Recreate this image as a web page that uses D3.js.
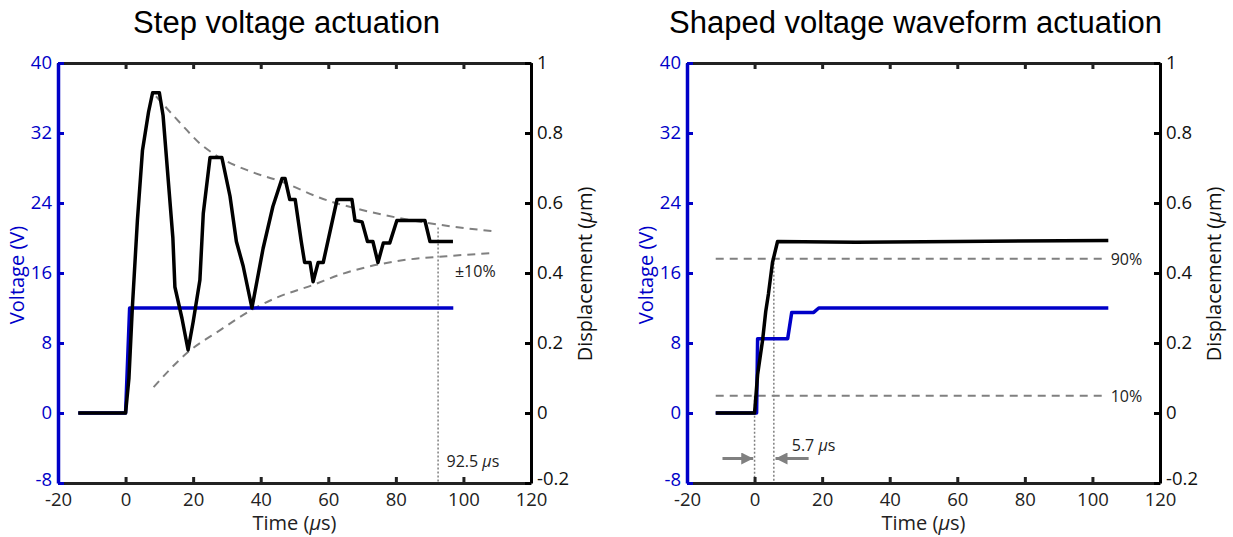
<!DOCTYPE html>
<html>
<head>
<meta charset="utf-8">
<script src="https://cdn.jsdelivr.net/npm/d3@7"></script>
<style>
  body { margin: 0; background: #fff; }
  svg text { font-family: "Open Sans", sans-serif; }
</style>
</head>
<body>
<svg id="chart" width="1233" height="537"></svg>
<script>
// tick values
const timeTicks = [-20, 0, 20, 40, 60, 80, 100, 120];
const voltTicks = [-8, 0, 8, 16, 24, 32, 40];
const dispTicks = [-0.2, 0, 0.2, 0.4, 0.6, 0.8, 1];

// step actuation: voltage (V) and displacement (um)
const stepVoltT = [-14, 0, 1.2, 97];
const stepVolt  = [0, 0, 12, 12];
const stepDispT = [-14, 0, 1, 2, 3.5, 5, 6.8, 8, 10, 11.1, 14, 14.6, 16.7, 18.5, 20, 22, 23, 25, 28.5,
  30.9, 32.8, 34.8, 37.4, 40.7, 43.6, 46.3, 47.2, 48.6, 50.2, 52, 53, 54.6, 55.5, 57, 58.5,
  62.6, 67, 67.9, 70, 71.6, 73.2, 74.7, 76.3, 78.2, 80.3, 88.6, 90.1, 96.9];
const stepDisp  = [0, 0, 0.1, 0.3, 0.55, 0.75, 0.86, 0.915, 0.915, 0.85, 0.5, 0.36, 0.27, 0.18, 0.26, 0.38, 0.57, 0.73, 0.73,
  0.62, 0.49, 0.42, 0.3, 0.47, 0.59, 0.67, 0.67, 0.61, 0.61, 0.49, 0.43, 0.43, 0.375, 0.43, 0.43,
  0.61, 0.61, 0.55, 0.546, 0.49, 0.49, 0.43, 0.486, 0.486, 0.55, 0.55, 0.49, 0.49];
// +-10% envelopes
const upperEnvT = [9, 17, 22, 27, 37, 46.5, 57.5, 70, 81, 95, 110];
const upperEnv  = [0.905, 0.82, 0.77, 0.735, 0.69, 0.66, 0.615, 0.58, 0.557, 0.535, 0.518];
const lowerEnvT = [8.3, 18.5, 28, 38.3, 44.8, 55.5, 63.4, 81, 95, 109];
const lowerEnv  = [0.074, 0.174, 0.237, 0.3, 0.33, 0.366, 0.395, 0.435, 0.448, 0.457];
const settleTime = 92.5;

// shaped actuation
const shapedVoltT = [-11.5, 0.6, 0.9, 9.8, 11, 17.5, 19, 104.7];
const shapedVolt  = [0, 0, 8.5, 8.5, 11.5, 11.5, 12, 12];
const shapedDispT = [-11.5, 0, 0.9, 2.4, 3.3, 4.1, 5.3, 6.8, 30, 60, 104.7];
const shapedDisp  = [0, 0, 0.11, 0.21, 0.29, 0.34, 0.43, 0.49, 0.488, 0.49, 0.493];
const levelLabels = ["90%", "10%"];
const levelValues = [0.441, 0.049];
const levelRange  = [-11.5, 104.5];
const riseTime = 5.7;

const blue = "#0000c8";
const gray = "#808080";
const plotTop = 63, plotBottom = 483;

const svg = d3.select("#chart");

svg.append("defs").append("marker")
  .attr("id", "arrow")
  .attr("viewBox", "0 0 10 10")
  .attr("refX", 10).attr("refY", 5)
  .attr("markerWidth", 4.5).attr("markerHeight", 4)
  .attr("orient", "auto")
  .append("path")
  .attr("d", "M0,0L10,5L0,10Z")
  .attr("fill", gray);

function drawPanel(x0, x1, title) {
  const x = d3.scaleLinear().domain([-20, 120]).range([x0, x1]);
  const yV = d3.scaleLinear().domain([-8, 40]).range([plotBottom, plotTop]);
  const yD = d3.scaleLinear().domain([-0.2, 1]).range([plotBottom, plotTop]);
  const g = svg.append("g");

  // title
  svg.append("text")
    .attr("x", (x0 + x1) / 2 - 8).attr("y", 33)
    .attr("text-anchor", "middle")
    .style("font-family", "'Liberation Sans', Arial, sans-serif")
    .style("font-size", "31px")
    .text(title);

  // axes
  const axes = svg.append("g").attr("class", "axes");
  axes.append("g")
    .attr("transform", `translate(0,${plotBottom})`)
    .call(d3.axisBottom(x).tickValues(timeTicks).tickSizeInner(-6).tickSizeOuter(0).tickPadding(10).tickFormat(d => String(d)))
    .call(a => a.select(".domain").attr("stroke", "#222").attr("stroke-width", 3))
    .call(a => a.selectAll(".tick line").attr("stroke", "#222").attr("stroke-width", 3))
    .call(a => a.selectAll("text").style("font-size", "18.5px").attr("fill", "#222"));
  axes.append("g")
    .attr("transform", `translate(0,${plotTop})`)
    .call(d3.axisTop(x).tickValues(timeTicks).tickSizeInner(-6).tickSizeOuter(0).tickFormat(""))
    .call(a => a.select(".domain").attr("stroke", "#222").attr("stroke-width", 3))
    .call(a => a.selectAll(".tick line").attr("stroke", "#222").attr("stroke-width", 3));
  axes.append("g")
    .attr("transform", `translate(${x1},0)`)
    .call(d3.axisRight(yD).tickValues(dispTicks).tickSizeInner(-6).tickSizeOuter(0).tickPadding(6)
      .tickFormat(d => String(Math.round(d * 10) / 10)))
    .call(a => a.select(".domain").attr("stroke", "#000").attr("stroke-width", 3))
    .call(a => a.selectAll(".tick line").attr("stroke", "#000").attr("stroke-width", 3))
    .call(a => a.selectAll("text").style("font-size", "18.5px").attr("fill", "#111")
      .attr("dy", d => d < 0 ? "0.1em" : "0.32em"));
  axes.append("g")
    .attr("transform", `translate(${x0},0)`)
    .call(d3.axisLeft(yV).tickValues(voltTicks).tickSizeInner(-6).tickSizeOuter(0).tickPadding(6).tickFormat(d => String(d)))
    .call(a => a.select(".domain").attr("stroke", blue).attr("stroke-width", 3.5))
    .call(a => a.selectAll(".tick line").attr("stroke", blue).attr("stroke-width", 3))
    .call(a => a.selectAll("text").style("font-size", "18.5px").attr("fill", blue)
      .attr("dy", d => d < 0 ? "0.15em" : "0.32em"));

  // axis titles
  svg.append("text")
    .attr("x", (x0 + x1) / 2).attr("y", 530)
    .attr("text-anchor", "middle")
    .style("font-size", "20px").attr("fill", "#222")
    .html('Time (<tspan font-style="italic">μ</tspan>s)');
  svg.append("text")
    .attr("transform", `translate(${x0 - 34},${(plotTop + plotBottom) / 2 + 2}) rotate(-90)`)
    .attr("text-anchor", "middle")
    .style("font-size", "20px").attr("fill", blue)
    .text("Voltage (V)");
  svg.append("text")
    .attr("transform", `translate(${x1 + 61},${(plotTop + plotBottom) / 2 + 1}) rotate(-90)`)
    .attr("text-anchor", "middle")
    .style("font-size", "20px").attr("fill", "#111")
    .html('Displacement (<tspan font-style="italic">μ</tspan>m)');

  return { x, yV, yD, g };
}

function zip(ts, vs) { return ts.map((t, i) => [t, vs[i]]); }

function addLine(p, data, y, color, width, curve) {
  return p.g.append("path")
    .datum(data)
    .attr("fill", "none")
    .attr("stroke", color)
    .attr("stroke-width", width)
    .attr("stroke-linejoin", "round")
    .attr("d", d3.line().x(d => p.x(d[0])).y(d => y(d[1])).curve(curve || d3.curveLinear));
}

// ---- left panel
const L = drawPanel(58, 531, "Step voltage actuation");
addLine(L, zip(upperEnvT, upperEnv), L.yD, gray, 2, d3.curveMonotoneX).attr("stroke-dasharray", "8,6");
addLine(L, zip(lowerEnvT, lowerEnv), L.yD, gray, 2, d3.curveMonotoneX).attr("stroke-dasharray", "8,6");
L.g.append("line")
  .attr("x1", L.x(settleTime)).attr("x2", L.x(settleTime))
  .attr("y1", L.yD(0.53)).attr("y2", plotBottom)
  .attr("stroke", gray).attr("stroke-width", 1.5).attr("stroke-dasharray", "2,2");
addLine(L, zip(stepVoltT, stepVolt), L.yV, blue, 3.5);
addLine(L, zip(stepDispT, stepDisp), L.yD, "#000", 3.5);
L.g.append("text")
  .attr("x", L.x(97.5)).attr("y", L.yD(0.39))
  .style("font-size", "16px").attr("fill", "#222")
  .text("±10%");
L.g.append("text")
  .attr("x", L.x(95)).attr("y", L.yD(-0.155))
  .style("font-size", "16px").attr("fill", "#222")
  .html('92.5 <tspan font-style="italic">μ</tspan>s');

// ---- right panel
const R = drawPanel(687, 1160, "Shaped voltage waveform actuation");
levelValues.forEach((v, i) => {
  R.g.append("line")
    .attr("x1", R.x(levelRange[0])).attr("x2", R.x(levelRange[1]))
    .attr("y1", R.yD(v)).attr("y2", R.yD(v))
    .attr("stroke", gray).attr("stroke-width", 2).attr("stroke-dasharray", "8,6");
  R.g.append("text")
    .attr("x", R.x(levelRange[1]) + 3).attr("y", R.yD(v) + 6)
    .style("font-size", "16px").attr("fill", "#222")
    .text(levelLabels[i]);
});
[[0, levelValues[1]], [riseTime, levelValues[0]]].forEach(([t, v]) => {
  R.g.append("line")
    .attr("x1", R.x(t)).attr("x2", R.x(t))
    .attr("y1", R.yD(v)).attr("y2", plotBottom)
    .attr("stroke", gray).attr("stroke-width", 1.5).attr("stroke-dasharray", "2,2");
});
addLine(R, zip(shapedVoltT, shapedVolt), R.yV, blue, 3.5);
addLine(R, zip(shapedDispT, shapedDisp), R.yD, "#000", 3.5);
// rise-time arrows
[[-9.5, -0.4], [16, 6.2]].forEach(([a, b]) => {
  R.g.append("line")
    .attr("x1", R.x(a)).attr("x2", R.x(b))
    .attr("y1", R.yD(-0.13)).attr("y2", R.yD(-0.13))
    .attr("stroke", gray).attr("stroke-width", 3)
    .attr("marker-end", "url(#arrow)");
});
R.g.append("text")
  .attr("x", R.x(11)).attr("y", R.yD(-0.108))
  .style("font-size", "16px").attr("fill", "#222")
  .html('5.7 <tspan font-style="italic">μ</tspan>s');
</script>
</body>
</html>
